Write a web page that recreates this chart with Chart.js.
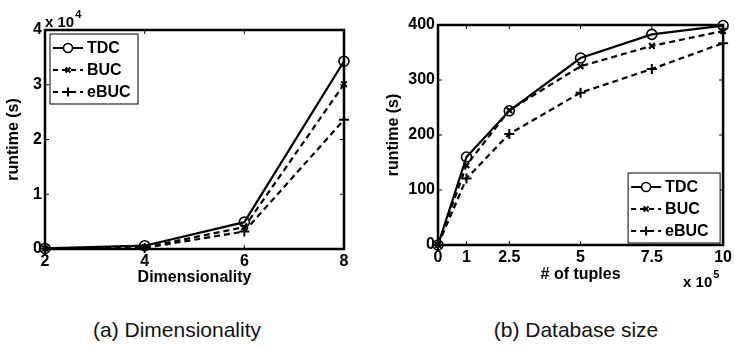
<!DOCTYPE html>
<html>
<head>
<meta charset="utf-8">
<script src="https://cdn.jsdelivr.net/npm/chart.js@4"></script>
<style>
  body { margin: 0; background: #fff; width: 735px; height: 347px; position: relative; overflow: hidden; }
  .box { position: absolute; top: 0; }
  .caption { position: absolute; top: 318px; font: 21px "Liberation Sans", Arial, sans-serif; color: #111; white-space: nowrap; transform: translateX(-50%); }
</style>
</head>
<body>
<div class="box" style="left:0px"><canvas id="chartDim" width="360" height="300"></canvas></div>
<div class="box" style="left:370px"><canvas id="chartSize" width="365" height="300"></canvas></div>
<div class="caption" style="left:177px">(a) Dimensionality</div>
<div class="caption" style="left:576px">(b) Database size</div>

<script>
// donnees
const dims = [2, 4, 6, 8];
const tdcDim = [100, 600, 4900, 34300];
const bucDim = [100, 300, 4000, 30100];
const ebucDim = [100, 200, 3200, 23600];

const tuples = [0, 1, 2.5, 5, 7.5, 10]; // x 10^5
const tdcSize = [0, 160, 244, 340, 383, 399];
const bucSize = [0, 145, 245, 325, 362, 389];
const ebucSize = [0, 121, 202, 277, 320, 367];

const seriesNames = ['TDC', 'BUC', 'eBUC'];

const FONT = '"Liberation Sans", Arial, sans-serif';
Chart.defaults.font.family = FONT;
Chart.defaults.color = '#000';

function makeDatasets(xs, a, b, c) {
    function pts(ys) { return xs.map(function(x, i) { return {x: x, y: ys[i]}; }); }
    return [
        { label: seriesNames[0], data: pts(a), borderColor: '#000', backgroundColor: 'rgba(0,0,0,0)',
          borderWidth: 2.2, pointStyle: 'circle', pointRadius: 5, pointBorderWidth: 1.6, clip: false },
        { label: seriesNames[1], data: pts(b), borderColor: '#000', backgroundColor: 'rgba(0,0,0,0)',
          borderWidth: 2.2, borderDash: [6, 4], pointStyle: 'crossRot', pointRadius: 4, pointBorderWidth: 2, clip: false },
        { label: seriesNames[2], data: pts(c), borderColor: '#000', backgroundColor: 'rgba(0,0,0,0)',
          borderWidth: 2.2, borderDash: [6, 4], pointStyle: 'cross', pointRadius: 5, pointBorderWidth: 2, clip: false }
    ];
}

// cadre style matlab + ticks vers l'interieur + legende + multiplicateur
const matlabBox = {
    id: 'matlabBox',
    afterDatasetsDraw: function(chart, args, opts) {
        const ctx = chart.ctx;
        const a = chart.chartArea;
        const xs = chart.scales.x, ys = chart.scales.y;
        ctx.save();
        ctx.strokeStyle = '#000';
        ctx.lineWidth = 1;
        ctx.setLineDash([]);
        xs.ticks.forEach(function(t) {
            const px = xs.getPixelForValue(t.value);
            ctx.beginPath();
            ctx.moveTo(px, a.bottom); ctx.lineTo(px, a.bottom - 4);
            ctx.moveTo(px, a.top); ctx.lineTo(px, a.top + 4);
            ctx.stroke();
        });
        ys.ticks.forEach(function(t) {
            const py = ys.getPixelForValue(t.value);
            ctx.beginPath();
            ctx.moveTo(a.left, py); ctx.lineTo(a.left + 4, py);
            ctx.moveTo(a.right, py); ctx.lineTo(a.right - 4, py);
            ctx.stroke();
        });
        ctx.lineWidth = 2.5;
        ctx.strokeRect(a.left, a.top, a.right - a.left, a.bottom - a.top);

        // legende
        const w = opts.legendW, h = 70;
        let bx, by;
        if (opts.legendPos == 'topleft') {
            bx = a.left + 5; by = a.top + 4;
        } else {
            bx = a.right - 3 - w; by = a.bottom - 2 - h;
        }
        ctx.fillStyle = '#fff';
        ctx.fillRect(bx, by, w, h);
        ctx.lineWidth = 1;
        ctx.strokeRect(bx, by, w, h);
        ctx.font = 'bold 16px ' + FONT;
        ctx.textBaseline = 'middle';
        chart.data.datasets.forEach(function(ds, i) {
            const ry = by + 14 + i * 22;
            ctx.strokeStyle = '#000';
            ctx.lineWidth = 2;
            ctx.setLineDash(ds.borderDash ? [5, 4] : []);
            ctx.beginPath();
            ctx.moveTo(bx + 3, ry); ctx.lineTo(bx + 33, ry);
            ctx.stroke();
            ctx.setLineDash([]);
            ctx.lineWidth = ds.pointBorderWidth;
            Chart.helpers.drawPoint(ctx, {pointStyle: ds.pointStyle, radius: ds.pointRadius - 0.5, borderWidth: ds.pointBorderWidth, rotation: 0}, bx + 18, ry);
            ctx.fillStyle = '#000';
            ctx.fillText(ds.label, bx + 37, ry + 1);
        });

        // multiplicateur x 10^n
        ctx.fillStyle = '#000';
        ctx.textBaseline = 'alphabetic';
        ctx.font = 'bold 15px ' + FONT;
        let mx, my;
        if (opts.multPos == 'top') { mx = a.left; my = a.top - 3; }
        else { mx = a.right - 40; my = a.bottom + 42; }
        ctx.fillText('x 10', mx, my);
        const tw = ctx.measureText('x 10').width;
        ctx.font = 'bold 11px ' + FONT;
        ctx.fillText(opts.exponent, mx + tw + 1, my - 9);
        ctx.restore();
    }
};

function axisTitle(txt) {
    return { display: true, text: txt, font: { size: 16, weight: 'bold' }, padding: 4 };
}

new Chart(document.getElementById('chartDim'), {
    type: 'line',
    data: { datasets: makeDatasets(dims, tdcDim, bucDim, ebucDim) },
    plugins: [matlabBox],
    options: {
        responsive: false,
        animation: false,
        layout: { padding: { top: 30, right: 16, left: 0, bottom: 9 } },
        plugins: {
            legend: { display: false },
            tooltip: { enabled: false },
            matlabBox: { legendPos: 'topleft', multPos: 'top', exponent: '4', legendW: 88 }
        },
        scales: {
            x: {
                type: 'linear', min: 2, max: 8,
                ticks: { stepSize: 2, padding: 3, font: { size: 16, weight: 'bold' } },
                grid: { display: false, drawTicks: false },
                border: { display: false },
                title: axisTitle('Dimensionality'),
                afterFit: function(s) { s.height = 42; }
            },
            y: {
                min: 0, max: 40000,
                ticks: { stepSize: 10000, padding: 3, font: { size: 16, weight: 'bold' },
                         callback: function(v) { return v / 10000; } },
                grid: { display: false, drawTicks: false },
                border: { display: false },
                title: axisTitle('runtime (s)'),
                afterFit: function(s) { s.width = 45; }
            }
        }
    }
});

new Chart(document.getElementById('chartSize'), {
    type: 'line',
    data: { datasets: makeDatasets(tuples, tdcSize, bucSize, ebucSize) },
    plugins: [matlabBox],
    options: {
        responsive: false,
        animation: false,
        layout: { padding: { top: 25, right: 7, left: 10, bottom: 12 } },
        plugins: {
            legend: { display: false },
            tooltip: { enabled: false },
            matlabBox: { legendPos: 'bottomright', multPos: 'bottom', exponent: '5', legendW: 92 }
        },
        scales: {
            x: {
                type: 'linear', min: 0, max: 10,
                afterBuildTicks: function(s) { s.ticks = tuples.map(function(v) { return {value: v}; }); },
                ticks: { padding: 3, font: { size: 16, weight: 'bold' }, callback: function(v) { return String(v); } },
                grid: { display: false, drawTicks: false },
                border: { display: false },
                title: axisTitle('# of tuples'),
                afterFit: function(s) { s.height = 43; }
            },
            y: {
                min: 0, max: 400,
                ticks: { stepSize: 100, padding: 3, font: { size: 16, weight: 'bold' } },
                grid: { display: false, drawTicks: false },
                border: { display: false },
                title: axisTitle('runtime (s)'),
                afterFit: function(s) { s.width = 58; }
            }
        }
    }
});
</script>
</body>
</html>
